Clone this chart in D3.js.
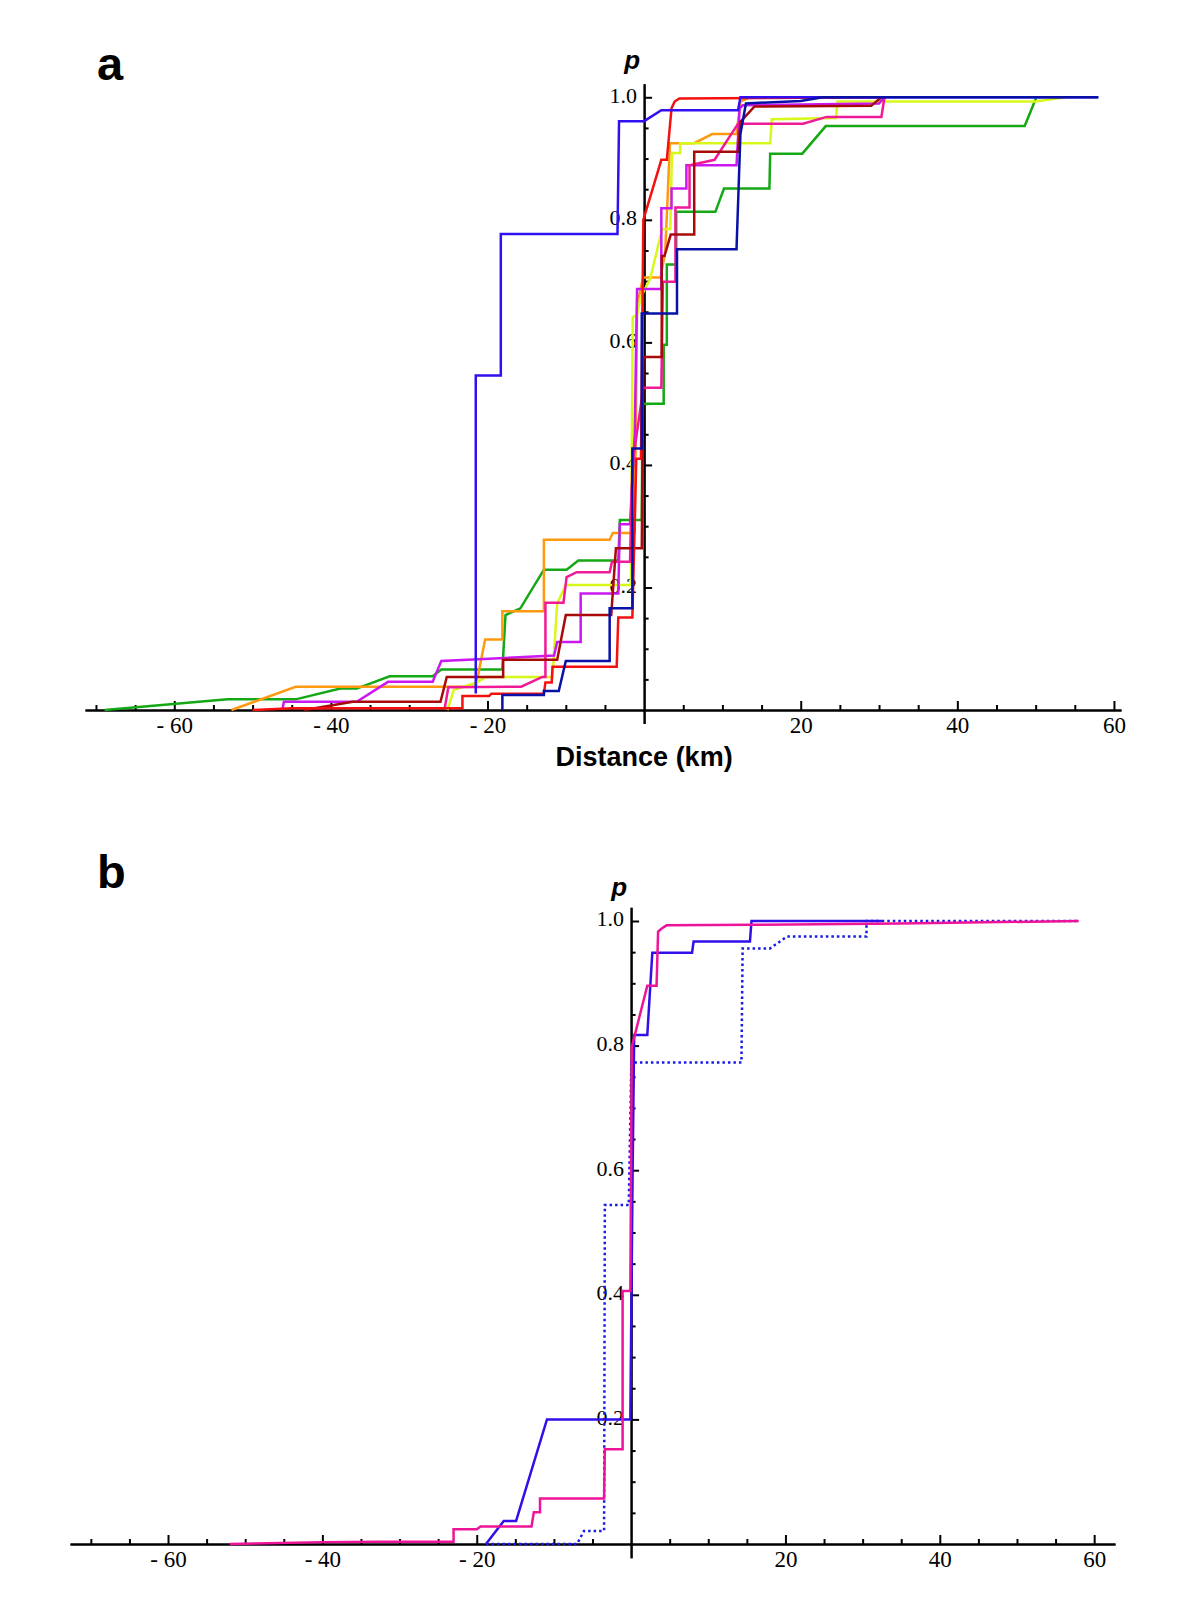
<!DOCTYPE html>
<html>
<head>
<meta charset="utf-8">
<script src="https://cdn.jsdelivr.net/npm/d3@7"></script>
<style>
body { margin: 0; background: #fff; }
</style>
</head>
<body>
<script>
// panel a: cumulative p against distance (km), one list of [km, p] per series
var aGreen = [[-68.9,0],[-53.2,0.0174],[-44.5,0.0174],[-38.8,0.035],[-36.7,0.035],[-32.5,0.055],[-27.0,0.055],[-25.9,0.066],[-18.1,0.066],[-17.7,0.155],[-15.8,0.166],[-12.8,0.229],[-9.9,0.229],[-8.4,0.244],[-3.3,0.244],[-3.1,0.31],[-0.3,0.31],[-0.2,0.50],[2.5,0.50],[2.5,0.596],[2.9,0.596],[2.9,0.727],[4.1,0.727],[4.1,0.813],[9.1,0.813],[10.2,0.851],[16.0,0.851],[16.1,0.908],[20.2,0.908],[23.2,0.953],[48.6,0.953],[50.1,1.0]];
var aOrange = [[-52.7,0],[-44.5,0.038],[-21.5,0.038],[-20.3,0.115],[-18.1,0.115],[-18.1,0.161],[-12.8,0.161],[-12.8,0.278],[-4.4,0.278],[-4.0,0.289],[-1.2,0.289],[-0.9,0.66],[-0.13,0.706],[2.1,0.706],[2.7,0.748],[3.3,0.925],[6.4,0.925],[8.7,0.94],[11.8,0.94],[12.3,0.993],[13.5,1.0],[25,1.0]];
var aYellow = [[-25.1,0],[-24.3,0.033],[-21.5,0.044],[-20.2,0.054],[-11.7,0.054],[-11.1,0.174],[-10.0,0.204],[-1.7,0.204],[-1.45,0.641],[-0.9,0.645],[-0.47,0.672],[0.8,0.705],[2.3,0.785],[3.35,0.785],[3.55,0.909],[4.6,0.909],[4.6,0.925],[16.1,0.925],[16.3,0.964],[24.5,0.966],[24.7,0.993],[50,0.993],[53.8,1.0]];
var aMagenta = [[-46.2,0],[-46.0,0.0136],[-36.7,0.0136],[-32.7,0.046],[-27.0,0.046],[-25.9,0.080],[-11.5,0.089],[-11.1,0.111],[-8.1,0.111],[-8.1,0.19],[-3.3,0.19],[-3.1,0.303],[-1.8,0.303],[-1.2,0.45],[-0.9,0.687],[2.2,0.687],[2.2,0.819],[3.5,0.819],[3.5,0.851],[5.4,0.851],[5.4,0.889],[11.8,0.889],[12.2,0.982],[12.6,0.987],[30,0.99],[30.7,1.0]];
var aPink = [[-25.5,0],[-25.0,0.037],[-15.7,0.038],[-13.0,0.054],[-12.6,0.054],[-12.6,0.175],[-10.3,0.175],[-9.9,0.217],[-8.6,0.225],[-4.4,0.225],[-4.1,0.242],[-1.8,0.242],[-1.5,0.40],[-0.1,0.526],[2.2,0.526],[2.4,0.699],[4.0,0.699],[4.0,0.82],[5.8,0.82],[5.8,0.889],[9.0,0.898],[12.0,0.957],[20.3,0.957],[23.3,0.968],[30.3,0.968],[30.7,1.0]];
var aDarkRed = [[-43.4,0],[-37.2,0.0136],[-26.0,0.0136],[-25.2,0.054],[-18.0,0.054],[-18.0,0.082],[-11.1,0.082],[-10.0,0.155],[-4.2,0.155],[-3.6,0.264],[-0.3,0.264],[-0.1,0.576],[2.25,0.576],[2.25,0.741],[2.6,0.741],[3.4,0.776],[6.4,0.776],[6.4,0.911],[12.0,0.911],[12.3,0.96],[14.1,0.985],[29.0,0.986],[30.3,1.0]];
var aRed = [[-50,0],[-45,0.003],[-23.2,0.003],[-23.2,0.0228],[-19.8,0.0228],[-19.5,0.0267],[-12.8,0.0267],[-12.6,0.045],[-11.8,0.045],[-11.7,0.0707],[-3.5,0.0707],[-3.3,0.151],[-1.5,0.151],[-1.0,0.41],[-0.4,0.41],[-0.1,0.8],[2.2,0.898],[2.9,0.898],[3.5,0.982],[3.9,0.993],[4.5,0.998],[31,1.0]];
var aBlue = [[-21.5,0.027],[-21.5,0.546],[-18.3,0.546],[-18.3,0.777],[-3.4,0.777],[-3.2,0.961],[0,0.961],[2.2,0.979],[12.0,0.979],[12.3,1.0],[58,1.0]];
var aNavy = [[-18.1,0],[-18.1,0.0245],[-12.8,0.0245],[-12.8,0.031],[-10.9,0.031],[-10.0,0.08],[-4.4,0.08],[-4.4,0.166],[-1.5,0.166],[-1.5,0.427],[-0.3,0.427],[-0.3,0.647],[4.2,0.647],[4.2,0.752],[11.8,0.752],[12.3,0.94],[13.0,0.99],[20,0.994],[22.8,1.0],[58,1.0]];

// panel b
var bPink = [[-52,0],[-40,0.003],[-32.5,0.0037],[-23.0,0.0037],[-23.0,0.0235],[-20.0,0.0235],[-19.5,0.028],[-12.9,0.028],[-12.6,0.051],[-11.8,0.051],[-11.8,0.073],[-3.5,0.073],[-3.4,0.152],[-1.1,0.152],[-1.1,0.406],[-0.1,0.406],[0.09,0.798],[2.1,0.896],[3.3,0.896],[3.5,0.983],[3.97,0.988],[4.6,0.993],[15.8,0.994],[34.8,0.996],[58,1.0]];
var bBlue = [[-18.8,0],[-16.5,0.037],[-14.9,0.037],[-10.9,0.2],[-0.1,0.2],[0.2,0.6],[0.4,0.817],[2.1,0.817],[2.75,0.949],[7.9,0.949],[8.1,0.967],[15.4,0.967],[15.6,1.0],[32.5,1.0]];
var bBlueDotted = [[-18.8,0],[-7.0,0],[-6.1,0.021],[-3.5,0.021],[-3.4,0.544],[-0.3,0.544],[0.03,0.773],[14.3,0.773],[14.45,0.956],[18.0,0.956],[20.2,0.975],[30.5,0.975],[30.5,1.0],[57.9,1.0]];

var xMajor = [-60, -40, -20, 20, 40, 60];
var xMinor = [-70, -65, -55, -50, -45, -35, -30, -25, -15, -10, -5, 5, 10, 15, 25, 30, 35, 45, 50, 55];
var yMajor = [0.2, 0.4, 0.6, 0.8, 1.0];
var yMinor = [0.05, 0.1, 0.15, 0.25, 0.3, 0.35, 0.45, 0.5, 0.55, 0.65, 0.7, 0.75, 0.85, 0.9, 0.95];

var w = 1200;
var h = 1622;

var svg = d3.select("body")
	.append("svg")
	.attr("width", w)
	.attr("height", h);

function panel(opt){

	var x = d3.scaleLinear().domain(opt.xDomain).range(opt.xRange);
	var y = d3.scaleLinear().domain([-0.022, 1.022]).range(opt.yRange);
	var g = svg.append("g");

	// x axis: ticks point up, labels below
	g.append("g")
		.attr("transform", "translate(0," + y(0) + ")")
		.call(d3.axisBottom(x).tickValues(xMinor).tickSize(-5).tickSizeOuter(0).tickFormat(""));
	g.append("g")
		.attr("class", "xlab")
		.attr("transform", "translate(0," + y(0) + ")")
		.call(d3.axisBottom(x).tickValues(xMajor).tickSize(-9).tickSizeOuter(0).tickPadding(7)
			.tickFormat(function(d){ return d < 0 ? "- " + Math.abs(d) : d; }));

	// y axis: ticks point right, labels left
	g.append("g")
		.attr("transform", "translate(" + x(0) + ",0)")
		.call(d3.axisLeft(y).tickValues(yMinor).tickSize(-4.5).tickSizeOuter(0).tickFormat(""));
	g.append("g")
		.attr("class", "ylab")
		.attr("transform", "translate(" + x(0) + ",0)")
		.call(d3.axisLeft(y).tickValues(yMajor).tickSize(-8).tickSizeOuter(0).tickPadding(7)
			.tickFormat(d3.format(".1f")));

	g.selectAll(".domain").attr("stroke", "#000").attr("stroke-width", 2);
	g.selectAll(".tick line").attr("stroke", "#000").attr("stroke-width", 2);
	g.selectAll(".tick text")
		.attr("fill", "#000")
		.style("font-family", "'Liberation Serif', 'Times New Roman', serif")
		.style("font-size", "22px");
	g.selectAll(".xlab .tick text").style("font-size", "23px");
	g.selectAll(".ylab .tick text").attr("dy", "0.22em");

	var line = d3.line()
		.x(function(d){ return x(d[0]); })
		.y(function(d){ return y(d[1]); });

	opt.series.forEach(function(s){
		g.append("path")
			.datum(s.data)
			.attr("fill", "none")
			.attr("stroke", s.color)
			.attr("stroke-width", 2.5)
			.attr("stroke-dasharray", s.dash || null)
			.attr("d", line);
	});

	g.append("text")
		.text("p")
		.attr("x", x(0) - 12)
		.attr("y", y(1) - opt.pGap)
		.attr("text-anchor", "middle")
		.style("font-family", "'Liberation Sans', Arial, sans-serif")
		.style("font-weight", "bold")
		.style("font-style", "italic")
		.style("font-size", "26px");

	g.append("text")
		.text(opt.letter)
		.attr("x", 97)
		.attr("y", opt.letterY)
		.style("font-family", "'Liberation Sans', Arial, sans-serif")
		.style("font-weight", "bold")
		.style("font-size", "47px");

	if (opt.title) {
		g.append("text")
			.text(opt.title)
			.attr("x", x(0))
			.attr("y", opt.titleY)
			.attr("text-anchor", "middle")
			.style("font-family", "'Liberation Sans', Arial, sans-serif")
			.style("font-weight", "bold")
			.style("font-size", "27px");
	}
}

panel({
	xDomain: [-71.4, 60.9], xRange: [85, 1121],
	yRange: [723.5, 83.8],
	letter: "a", letterY: 80, pGap: 28,
	title: "Distance (km)", titleY: 766,
	series: [
		{data: aGreen, color: "#14a814"},
		{data: aOrange, color: "#ff9a10"},
		{data: aYellow, color: "#d8f81a"},
		{data: aMagenta, color: "#cc18f0"},
		{data: aPink, color: "#f01a96"},
		{data: aDarkRed, color: "#a80a0a"},
		{data: aRed, color: "#f51010"},
		{data: aBlue, color: "#3010f0"},
		{data: aNavy, color: "#0810a8"}
	]
});

panel({
	xDomain: [-72.7, 62.7], xRange: [70, 1115],
	yRange: [1557.7, 907.3],
	letter: "b", letterY: 888, pGap: 25,
	series: [
		{data: bBlueDotted, color: "#1a1ae8", dash: "2.5,3"},
		{data: bBlue, color: "#3010ea"},
		{data: bPink, color: "#ee1499"}
	]
});
</script>
</body>
</html>
